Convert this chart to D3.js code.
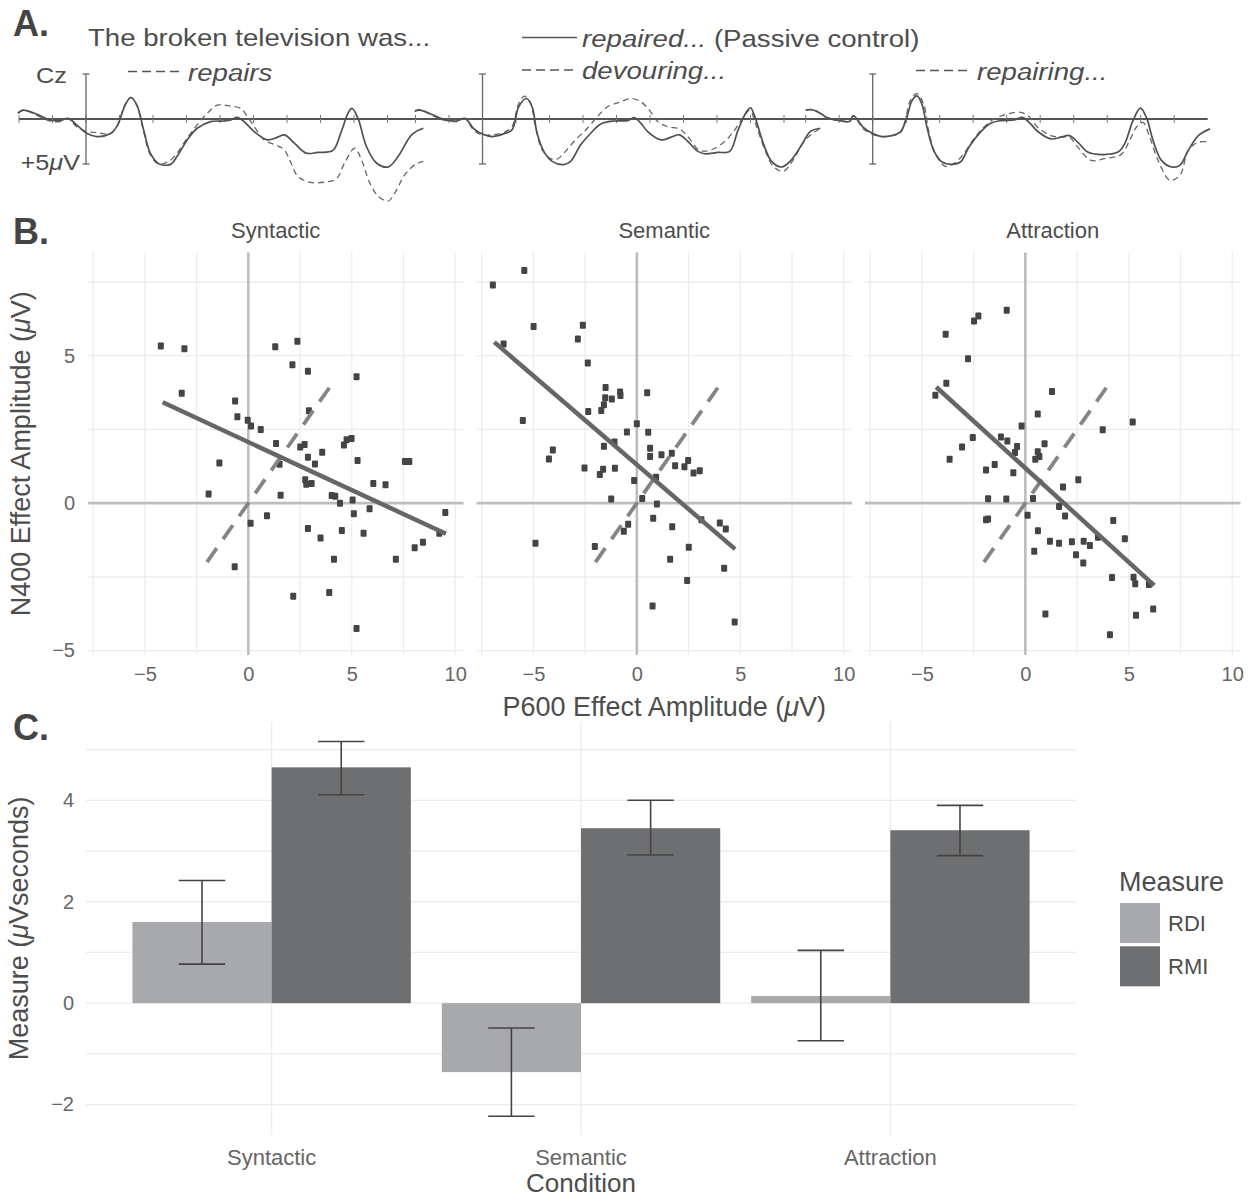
<!DOCTYPE html>
<html>
<head>
<meta charset="utf-8">
<script src="https://cdn.jsdelivr.net/npm/d3@7"></script>
<style>
  body { margin: 0; background: #fff; }
  svg { font-family: "Liberation Sans", Arial, sans-serif; }
</style>
</head>
<body>
<div id="chart"></div>
<script>
// ---------- Panel A: ERP at Cz, [time (ms), amplitude (uV)], positive plotted down ----------
const erpTicks = [-200, -100, 0, 100, 200, 300, 400, 500, 600, 700, 800, 900];

const erpSynControl = [[-203,-0.63],[-188,-0.99],[-148,-0.55],[-108,0.11],[-78,0.18],[-53,-0.07],[-28,0.66],[2,1.58],[32,1.95],[72,1.65],[92,0.85],[117,-1.54],[134,-2.39],[152,-1.54],[172,1.21],[192,3.79],[217,4.96],[252,5.04],[272,4.15],[302,2.32],[332,1.03],[372,0.29],[412,0.22],[432,0.11],[452,-0.18],[472,0.29],[502,1.40],[542,2.32],[572,2.02],[592,1.76],[622,2.68],[657,3.79],[692,3.71],[737,3.49],[762,1.40],[782,-0.63],[794,-1.18],[812,-0.07],[837,3.05],[867,4.89],[902,5.33],[932,4.15],[972,1.76],[1007,1.03]];
const erpSynTarget = [[-203,-0.70],[-188,-0.99],[-148,-0.44],[-108,0.22],[-78,0.29],[-53,0.00],[-28,0.85],[2,1.40],[32,1.51],[72,1.65],[92,0.85],[117,-1.65],[134,-2.39],[152,-1.47],[172,1.40],[192,3.97],[217,5.00],[247,4.71],[272,3.79],[302,2.13],[332,0.66],[362,-0.63],[392,-1.54],[432,-1.43],[462,-1.18],[482,-0.26],[502,0.85],[532,2.32],[572,2.98],[592,3.42],[612,4.89],[632,6.36],[667,7.02],[712,7.02],[747,6.65],[772,4.89],[802,3.24],[822,4.52],[847,7.10],[872,8.57],[902,9.12],[922,8.20],[952,6.18],[982,5.07],[1007,4.71]];

const erpSemControl = [[-202,-0.92],[-187,-0.99],[-147,-0.44],[-117,0.04],[-77,0.22],[-52,-0.07],[-27,1.03],[-2,1.65],[28,1.95],[63,1.65],[88,1.21],[108,-1.36],[131,-2.28],[148,-1.36],[163,1.58],[183,3.60],[208,4.71],[243,5.07],[263,4.71],[293,2.87],[323,1.58],[353,0.55],[393,0.22],[433,0.18],[453,-0.15],[473,0.48],[493,1.40],[533,2.32],[563,2.02],[588,1.76],[613,2.50],[643,3.60],[663,3.86],[703,3.71],[738,3.60],[763,1.21],[788,-0.81],[800,-1.25],[813,-0.26],[838,2.68],[863,4.71],[893,5.33],[918,4.71],[953,2.87],[978,1.40],[1008,1.03]];
const erpSemTarget = [[-202,-0.81],[-187,-1.07],[-147,-0.33],[-117,0.11],[-77,0.29],[-52,0.00],[-27,1.21],[-2,1.76],[28,1.76],[63,1.51],[88,0.85],[108,-1.73],[125,-2.54],[143,-1.80],[158,0.85],[178,3.42],[203,4.41],[223,4.45],[243,3.79],[273,2.50],[313,1.03],[343,-0.26],[373,-1.36],[413,-1.91],[443,-2.28],[473,-1.91],[498,-0.99],[523,0.29],[553,0.85],[588,1.10],[613,1.95],[648,3.49],[683,3.42],[723,2.50],[753,1.21],[783,-0.44],[798,-0.99],[818,0.85],[843,3.42],[868,5.26],[898,5.81],[928,4.52],[963,2.32],[1008,1.03]];

const erpAttControl = [[-200,-1.00],[-178,-1.00],[-148,-0.44],[-138,-0.18],[-98,0.18],[-68,0.26],[-58,-0.37],[-28,0.92],[2,1.65],[27,1.95],[57,1.84],[82,1.47],[102,-0.18],[117,-2.02],[132,-2.57],[147,-1.65],[162,0.92],[182,3.49],[207,4.78],[237,5.04],[262,4.78],[287,3.13],[317,1.65],[352,0.48],[382,0.18],[422,0.11],[447,-0.18],[467,0.37],[492,1.36],[532,2.21],[562,2.02],[587,1.84],[612,2.57],[642,3.68],[672,3.93],[732,3.68],[752,2.76],[777,0.18],[799,-1.21],[817,-0.18],[837,2.39],[862,4.60],[892,5.33],[917,5.15],[942,3.49],[972,1.84],[1007,1.10]];
const erpAttTarget = [[-200,-0.95],[-178,-1.05],[-148,-0.40],[-138,-0.11],[-98,0.18],[-68,0.26],[-58,-0.37],[-28,1.10],[2,1.73],[27,1.95],[57,1.84],[82,1.58],[97,0.18],[112,-2.02],[132,-2.83],[152,-1.65],[167,1.29],[187,3.86],[217,5.26],[242,4.96],[272,3.86],[302,2.21],[332,0.92],[362,0.00],[402,-0.55],[442,-0.74],[467,-0.26],[492,0.92],[532,1.84],[562,2.02],[587,2.02],[612,3.13],[652,4.60],[692,4.41],[742,3.93],[767,2.39],[787,0.92],[807,0.37],[827,2.02],[852,4.60],[887,6.80],[917,6.25],[942,3.49],[972,2.57],[1007,2.57]];

// ---------- Panel B: per-participant effect sizes ----------
const facetTitles = ["Syntactic", "Semantic", "Attraction"];
const synP600 = [-4.23,-3.09,-3.22,-0.64,-0.53,-0.03,0.13,0.60,-1.40,-1.92,-0.66,0.11,0.90,1.30,2.37,2.13,2.88,5.23,2.93,1.34,2.51,2.72,2.88,3.22,3.57,1.51,1.56,2.75,3.06,2.80,4.62,4.75,4.99,5.28,4.03,4.20,4.43,5.04,5.10,5.86,6.04,6.63,7.57,7.78,2.88,3.49,4.52,5.57,4.14,7.13,8.04,8.44,9.23,9.52,2.17,3.91,5.23];
const synN400 = [5.33,5.24,3.73,3.46,2.93,2.81,2.62,2.50,1.36,0.31,-2.16,-0.68,-0.43,5.30,5.49,4.69,4.47,4.29,3.13,2.02,1.90,1.99,1.56,1.33,1.73,1.32,0.27,0.79,0.67,0.64,1.97,2.15,2.19,1.45,0.26,0.23,0.00,0.11,-0.36,-0.19,0.67,0.62,1.41,1.41,-0.86,-1.18,-0.93,-1.02,-1.90,-1.90,-1.51,-1.33,-1.02,-0.32,-3.16,-3.03,-4.25];
const semP600 = [-6.96,-5.44,-6.44,-4.99,-5.51,-2.61,-2.85,-2.37,-1.51,-1.53,-1.21,-1.59,-1.72,-2.35,-0.81,-0.79,0.50,0.00,-0.48,0.55,-1.08,-1.59,0.64,0.64,1.19,1.69,2.48,1.85,2.30,2.74,3.04,-4.06,-4.25,-2.53,-1.63,-1.79,-1.06,-0.13,0.93,-1.24,0.26,0.97,0.79,1.71,3.12,4.01,4.30,-0.42,-0.63,-2.03,-4.90,2.51,1.61,4.22,2.43,0.76,4.73];
const semN400 = [7.40,7.89,5.40,5.99,2.80,6.03,5.57,4.75,3.92,3.57,3.53,3.34,3.14,3.11,3.77,3.65,3.74,2.69,2.41,2.40,2.07,1.93,1.86,1.58,1.64,1.69,1.45,1.27,1.23,1.02,1.10,1.80,1.50,1.19,1.15,0.97,1.18,0.77,0.88,0.14,0.16,-0.03,-0.51,-0.80,-0.56,-0.67,-0.88,-0.72,-0.95,-1.47,-1.36,-1.50,-1.90,-2.21,-2.62,-3.49,-4.03];
const attP600 = [-0.90,-2.27,-2.48,-3.85,-2.77,-3.82,-4.35,1.29,0.60,5.19,-0.18,3.74,-2.54,-3.06,-3.66,-1.18,-0.87,-0.40,-0.50,0.60,0.68,0.48,0.93,-1.48,-1.90,-0.58,1.82,2.56,-1.80,-0.92,0.37,1.63,1.92,0.11,-1.90,-1.80,0.61,4.25,4.81,1.19,1.63,2.25,2.82,3.12,3.51,0.43,2.45,2.80,4.19,5.23,5.31,5.97,0.97,5.35,6.18,4.09];
const attN400 = [6.54,6.35,6.18,5.73,4.90,4.07,3.66,3.79,3.02,2.75,2.62,2.49,2.23,1.90,1.49,2.24,2.11,1.92,1.72,1.74,1.58,1.49,2.01,1.31,1.12,1.03,0.55,0.79,0.15,0.14,0.16,-0.11,-0.44,-0.41,-0.56,-0.54,-0.94,-0.59,-1.21,-1.29,-1.36,-1.31,-1.29,-1.44,-1.16,-1.63,-1.75,-2.03,-2.52,-2.51,-2.73,-2.76,-3.76,-3.80,-3.59,-4.46];
// fitted regression line end points [P600, N400]
const synFit = [[-4.14, 3.42], [9.55, -1.04]];
const semFit = [[-6.89, 5.46], [4.75, -1.56]];
const attFit = [[-4.31, 3.94], [6.23, -2.79]];
const identityRange = [-2, 4.2];

// ---------- Panel C: RDI / RMI by condition ----------
const conditions = ["Syntactic", "Semantic", "Attraction"];
const measures = ["RDI", "RMI"];
const rdiMean = [1.60, -1.36, 0.14];
const rdiLow = [0.77, -2.23, -0.74];
const rdiHigh = [2.42, -0.49, 1.04];
const rmiMean = [4.65, 3.45, 3.41];
const rmiLow = [4.11, 2.92, 2.91];
const rmiHigh = [5.16, 4.00, 3.90];

const textCol = "#4d4d4d";
const gridCol = "#ececec";

const svg = d3.select("#chart").append("svg")
  .attr("width", 1255)
  .attr("height", 1200);

// panel letters
[["A.", 36], ["B.", 244], ["C.", 740]].forEach(([t, y]) => {
  svg.append("text").attr("x", 13).attr("y", y)
    .style("font-size", "36px").style("font-weight", "bold")
    .attr("fill", "#444").text(t);
});

// ================= Panel A =================
// panel A is a stretched picture in the original, so its text is drawn wider
function wideText(x, y, size, parts, anchor) {
  const t = svg.append("g").attr("transform", `translate(${x},${y}) scale(1.15,1)`)
    .append("text").attr("text-anchor", anchor || "start")
    .style("font-size", size + "px").attr("fill", textCol);
  parts.forEach(([s, italic]) => t.append("tspan")
    .style("font-style", italic ? "italic" : "normal").text(s));
}

const axisX = [86, 482.5, 872.7];
const yA = d3.scaleLinear().domain([-5, 5]).range([74, 164]);
const erpPanels = [
  { control: erpSynControl, target: erpSynTarget },
  { control: erpSemControl, target: erpSemTarget },
  { control: erpAttControl, target: erpAttTarget }
];
const xAs = axisX.map(a => d3.scaleLinear().domain([0, 1000]).range([a, a + 335]));

// baseline
svg.append("line")
  .attr("x1", xAs[0](-200)).attr("x2", xAs[2](1000))
  .attr("y1", yA(0)).attr("y2", yA(0))
  .attr("stroke", "#555").attr("stroke-width", 2);

erpPanels.forEach((p, i) => {
  const x = xAs[i];
  const g = svg.append("g");
  g.selectAll(".tick").data(erpTicks).enter().append("line")
    .attr("x1", d => x(d)).attr("x2", d => x(d))
    .attr("y1", yA(0) - 4).attr("y2", yA(0) + 4)
    .attr("stroke", "#777").attr("stroke-width", 1);
  // vertical amplitude bar
  g.append("line").attr("x1", x(0)).attr("x2", x(0))
    .attr("y1", yA(-5)).attr("y2", yA(5))
    .attr("stroke", "#666").attr("stroke-width", 1.3);
  [-5, 5].forEach(v => g.append("line")
    .attr("x1", x(0) - 3.5).attr("x2", x(0) + 3.5)
    .attr("y1", yA(v)).attr("y2", yA(v))
    .attr("stroke", "#666").attr("stroke-width", 1.3));

  const line = d3.line()
    .x(d => x(d[0])).y(d => yA(d[1]))
    .curve(d3.curveCatmullRom.alpha(0.5));
  g.append("path").datum(p.target).attr("d", line)
    .attr("fill", "none").attr("stroke", "#666")
    .attr("stroke-width", 1.3).attr("stroke-dasharray", "6 4");
  g.append("path").datum(p.control).attr("d", line)
    .attr("fill", "none").attr("stroke", "#505050")
    .attr("stroke-width", 1.7);
});

wideText(36, 83, 22, [["Cz"]]);
wideText(80, 170, 22, [["+5"], ["\u03bc", true], ["V"]], "end");
wideText(88, 46, 24, [["The broken television was..."]]);

function legendItem(x1, x2, y, dashed, label, extra) {
  svg.append("line").attr("x1", x1).attr("x2", x2).attr("y1", y).attr("y2", y)
    .attr("stroke", "#555").attr("stroke-width", 1.6)
    .attr("stroke-dasharray", dashed ? "9 5" : null);
  const parts = [[label, true]];
  if (extra) parts.push([extra]);
  wideText(x2 + 5, y + 9, 24, parts);
}
legendItem(522, 577, 37.5, false, "repaired...", " (Passive control)");
legendItem(522, 577, 70, true, "devouring...");
legendItem(128, 183, 71.5, true, "repairs");
legendItem(916, 972, 70.5, true, "repairing...");

// ================= Panel B =================
const facetData = [
  { p600: synP600, n400: synN400, fit: synFit },
  { p600: semP600, n400: semN400, fit: semFit },
  { p600: attP600, n400: attN400, fit: attFit }
];
const facetLeft = [88, 476.5, 865];
const facetW = 375.5;
const yB = d3.scaleLinear().domain([-5.15, 8.5]).range([655, 252.5]);
const fmt = d3.format("d");

facetData.forEach((f, i) => {
  const xB = d3.scaleLinear().domain([-7.75, 10.4]).range([facetLeft[i], facetLeft[i] + facetW]);
  const g = svg.append("g");

  // grid
  g.selectAll(".vg").data(d3.range(-7.5, 10.01, 2.5)).enter().append("line")
    .attr("x1", d => xB(d)).attr("x2", d => xB(d))
    .attr("y1", yB.range()[0]).attr("y2", yB.range()[1])
    .attr("stroke", gridCol).attr("stroke-width", 1.3);
  g.selectAll(".hg").data(d3.range(-5, 7.51, 2.5)).enter().append("line")
    .attr("x1", xB.range()[0]).attr("x2", xB.range()[1])
    .attr("y1", d => yB(d)).attr("y2", d => yB(d))
    .attr("stroke", gridCol).attr("stroke-width", 1.3);

  // zero lines
  g.append("line").attr("x1", xB(0)).attr("x2", xB(0))
    .attr("y1", yB.range()[0]).attr("y2", yB.range()[1])
    .attr("stroke", "#bdbdbd").attr("stroke-width", 2.6);
  g.append("line").attr("x1", xB.range()[0]).attr("x2", xB.range()[1])
    .attr("y1", yB(0)).attr("y2", yB(0))
    .attr("stroke", "#bdbdbd").attr("stroke-width", 2.6);

  // points
  g.selectAll("rect").data(f.p600.map((v, k) => [v, f.n400[k]])).enter().append("rect")
    .attr("x", d => xB(d[0]) - 3).attr("y", d => yB(d[1]) - 3.5)
    .attr("width", 6).attr("height", 7).attr("rx", 1)
    .attr("fill", "#444");

  // identity line
  g.append("line")
    .attr("x1", xB(identityRange[0])).attr("y1", yB(identityRange[0]))
    .attr("x2", xB(identityRange[1])).attr("y2", yB(identityRange[1]))
    .attr("stroke", "#858585").attr("stroke-width", 3.8)
    .attr("stroke-dasharray", "17 11");
  // regression line
  g.append("line")
    .attr("x1", xB(f.fit[0][0])).attr("y1", yB(f.fit[0][1]))
    .attr("x2", xB(f.fit[1][0])).attr("y2", yB(f.fit[1][1]))
    .attr("stroke", "#666").attr("stroke-width", 4.5);

  // x axis labels
  const ax = g.append("g").attr("transform", `translate(0,${yB.range()[0]})`)
    .call(d3.axisBottom(xB).tickValues([-5, 0, 5, 10]).tickSize(0).tickPadding(12).tickFormat(fmt));
  ax.select(".domain").remove();
  ax.selectAll("text").style("font-size", "20px").attr("fill", "#666");

  // facet title
  g.append("text").attr("x", xB.range()[0] + facetW / 2).attr("y", 238)
    .attr("text-anchor", "middle").style("font-size", "22px").attr("fill", textCol)
    .text(facetTitles[i]);

  if (i === 0) {
    const ay = g.append("g").attr("transform", `translate(${facetLeft[0]},0)`)
      .call(d3.axisLeft(yB).tickValues([-5, 0, 5]).tickSize(0).tickPadding(13).tickFormat(fmt));
    ay.select(".domain").remove();
    ay.selectAll("text").style("font-size", "20px").attr("fill", "#666");
  }
});

const yTitleB = svg.append("text")
  .attr("transform", `translate(30,${(252.5 + 655) / 2}) rotate(-90)`)
  .attr("text-anchor", "middle").style("font-size", "27px").attr("fill", textCol);
yTitleB.append("tspan").text("N400 Effect Amplitude (");
yTitleB.append("tspan").style("font-style", "italic").text("\u03bc");
yTitleB.append("tspan").text("V)");

const xTitleB = svg.append("text")
  .attr("x", (facetLeft[0] + facetLeft[2] + facetW) / 2).attr("y", 716)
  .attr("text-anchor", "middle").style("font-size", "27px").attr("fill", textCol);
xTitleB.append("tspan").text("P600 Effect Amplitude (");
xTitleB.append("tspan").style("font-style", "italic").text("\u03bc");
xTitleB.append("tspan").text("V)");

// ================= Panel C =================
const xC = d3.scaleBand().domain(conditions).range([86, 1076]).paddingInner(0).paddingOuter(0.1);
const xSub = d3.scaleBand().domain(measures)
  .range([xC.bandwidth() * 0.05, xC.bandwidth() * 0.95]);
const yC = d3.scaleLinear().domain([-2.6, 5.55]).range([1135, 721.7]);
const color = d3.scaleOrdinal().domain(measures).range(["#a8a9ac", "#6e6f71"]);

const gc = svg.append("g");
gc.selectAll(".hg").data(d3.range(-2, 5.01, 1)).enter().append("line")
  .attr("x1", 86).attr("x2", 1076)
  .attr("y1", d => yC(d)).attr("y2", d => yC(d))
  .attr("stroke", gridCol).attr("stroke-width", 1.3);
gc.selectAll(".vg").data(conditions).enter().append("line")
  .attr("x1", d => xC(d) + xC.bandwidth() / 2).attr("x2", d => xC(d) + xC.bandwidth() / 2)
  .attr("y1", yC.range()[0]).attr("y2", yC.range()[1])
  .attr("stroke", gridCol).attr("stroke-width", 1.3);

const barData = [];
conditions.forEach((c, i) => {
  barData.push({ cond: c, key: "RDI", v: rdiMean[i], lo: rdiLow[i], hi: rdiHigh[i] });
  barData.push({ cond: c, key: "RMI", v: rmiMean[i], lo: rmiLow[i], hi: rmiHigh[i] });
});

gc.selectAll(".bar").data(barData).enter().append("rect")
  .attr("x", d => xC(d.cond) + xSub(d.key))
  .attr("y", d => yC(Math.max(0, d.v)))
  .attr("width", xSub.bandwidth())
  .attr("height", d => Math.abs(yC(d.v) - yC(0)))
  .attr("fill", d => color(d.key));

const capW = xC.bandwidth() * 0.15;
barData.forEach(d => {
  const cx = xC(d.cond) + xSub(d.key) + xSub.bandwidth() / 2;
  gc.append("line").attr("x1", cx).attr("x2", cx)
    .attr("y1", yC(d.lo)).attr("y2", yC(d.hi))
    .attr("stroke", "#444").attr("stroke-width", 1.6);
  [d.lo, d.hi].forEach(v => gc.append("line")
    .attr("x1", cx - capW / 2).attr("x2", cx + capW / 2)
    .attr("y1", yC(v)).attr("y2", yC(v))
    .attr("stroke", "#444").attr("stroke-width", 1.6));
});

const axC = gc.append("g").attr("transform", `translate(0,${yC.range()[0]})`)
  .call(d3.axisBottom(xC).tickSize(0).tickPadding(14));
axC.select(".domain").remove();
axC.selectAll("text").style("font-size", "22px").attr("fill", "#666");

const ayC = gc.append("g").attr("transform", "translate(86,0)")
  .call(d3.axisLeft(yC).tickValues([-2, 0, 2, 4]).tickSize(0).tickPadding(12).tickFormat(fmt));
ayC.select(".domain").remove();
ayC.selectAll("text").style("font-size", "20px").attr("fill", "#666");

svg.append("text").attr("x", (86 + 1076) / 2).attr("y", 1192)
  .attr("text-anchor", "middle").style("font-size", "26px").attr("fill", textCol)
  .text("Condition");

const yTitleC = svg.append("text")
  .attr("transform", `translate(28,${(721.7 + 1135) / 2}) rotate(-90)`)
  .attr("text-anchor", "middle").style("font-size", "27px").attr("fill", textCol);
yTitleC.append("tspan").text("Measure (");
yTitleC.append("tspan").style("font-style", "italic").text("\u03bc");
yTitleC.append("tspan").text("Vseconds)");

// legend
const lg = svg.append("g").attr("transform", "translate(1120,903)");
lg.append("text").attr("x", -1).attr("y", -12)
  .style("font-size", "27px").attr("fill", textCol).text("Measure");
measures.forEach((m, i) => {
  lg.append("rect").attr("x", 0).attr("y", i * 43.3)
    .attr("width", 40).attr("height", 40).attr("fill", color(m));
  lg.append("text").attr("x", 48).attr("y", i * 43.3 + 28)
    .style("font-size", "22px").attr("fill", textCol).text(m);
});
</script>
</body>
</html>
